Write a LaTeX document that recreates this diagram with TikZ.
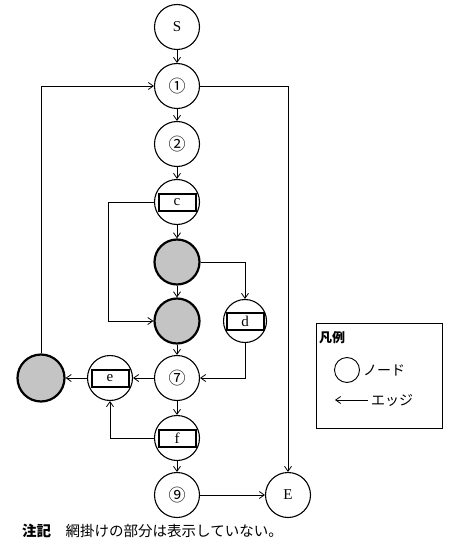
\documentclass[tikz,border=0pt]{standalone}
\usepackage{fontspec}
\setmainfont{Liberation Serif}
\newfontfamily\jpfont{Noto Sans CJK JP}
\usetikzlibrary{arrows.meta, positioning}
\definecolor{shade}{HTML}{C4C4C4}

\tikzset{
  nodecirc/.style={circle, draw, line width=1.1pt, minimum size=45pt, inner sep=0pt,
    font=\fontsize{15}{15}\selectfont},
  numcirc/.style={nodecirc, font=\jpfont\fontsize{17}{17}\selectfont},
  graynode/.style={circle, draw, fill=shade, line width=2.2pt, minimum size=45pt, inner sep=0pt},
  boxlabel/.style={rectangle, draw, line width=2pt, minimum width=37pt, minimum height=17pt,
    inner sep=0pt, font=\fontsize{15}{15}\selectfont},
  edge/.style={-{Straight Barb[length=5pt, width=7pt]}, line width=0.8pt},
  legendtxt/.style={font=\jpfont\fontsize{14}{14}\selectfont, inner sep=0pt},
}

\begin{document}
\begin{tikzpicture}[x=1pt, y=-1pt]
  \useasboundingbox (0,0) rectangle (450,548);

  % main column
  \node[nodecirc] (S) at (177,27) {S};
  \node[numcirc] (n1) at (177,86) {①};
  \node[numcirc] (n2) at (177,144) {②};
  \node[nodecirc] (c) at (177,202) {};
  \node[boxlabel] (cbox) at (c) {c};
  \node[graynode] (g1) at (177,262) {};
  \node[graynode] (g2) at (177,321) {};
  \node[nodecirc, minimum size=43pt] (d) at (245,321) {};
  \node[boxlabel] (dbox) at (d) {d};
  \node[numcirc] (n7) at (177,378) {⑦};
  \node[nodecirc] (e) at (110,378) {};
  \node[boxlabel] (ebox) at (e) {e};
  \node[graynode, minimum size=47pt] (g3) at (41,378) {};
  \node[nodecirc] (f) at (177,438) {};
  \node[boxlabel] (fbox) at (f) {f};
  \node[numcirc] (n9) at (177,495) {⑨};
  \node[nodecirc] (E) at (288,495) {E};

  % bend points
  \coordinate (cl) at (108,202);

  % edges
  \draw[edge] (S) -- (n1);
  \draw[edge] (n1) -- (n2);
  \draw[edge] (n2) -- (c);
  \draw[edge] (c) -- (g1);
  \draw[edge] (g1) -- (g2);
  \draw[edge] (c) -- (cl) |- (g2);
  \draw[edge] (g1) -| (d);
  \draw[edge] (d) |- (n7);
  \draw[edge] (g2) -- (n7);
  \draw[edge] (n7) -- (e);
  \draw[edge] (e) -- (g3);
  \draw[edge] (n7) -- (f);
  \draw[edge] (f) -| (e);
  \draw[edge] (f) -- (n9);
  \draw[edge] (n9) -- (E);
  \draw[edge] (g3) |- (n1);
  \draw[edge] (n1) -| (E);

  % legend
  \draw[line width=1pt] (316,323) rectangle (442,428);
  \node[legendtxt, anchor=west, font=\jpfont\bfseries\fontsize{13}{13}\selectfont] (lgtitle) at (319,338) {凡例};
  \node[circle, draw, line width=0.9pt, minimum size=25pt, inner sep=0pt] (lgnode) at (347,370) {};
  \node[legendtxt, anchor=west] (lgnodetxt) at (363,370) {ノード};
  \coordinate (lga) at (368,400);
  \coordinate (lgb) at (335,400);
  \draw[edge] (lga) -- (lgb);
  \node[legendtxt, anchor=west] (lgedgetxt) at (371,400) {エッジ};

  % note
  \node[anchor=west, inner sep=0pt, font=\jpfont\fontsize{14.5}{14.5}\selectfont] (note) at (22,531)
    {\textbf{注記}\quad 網掛けの部分は表示していない。};
\end{tikzpicture}
\end{document}
